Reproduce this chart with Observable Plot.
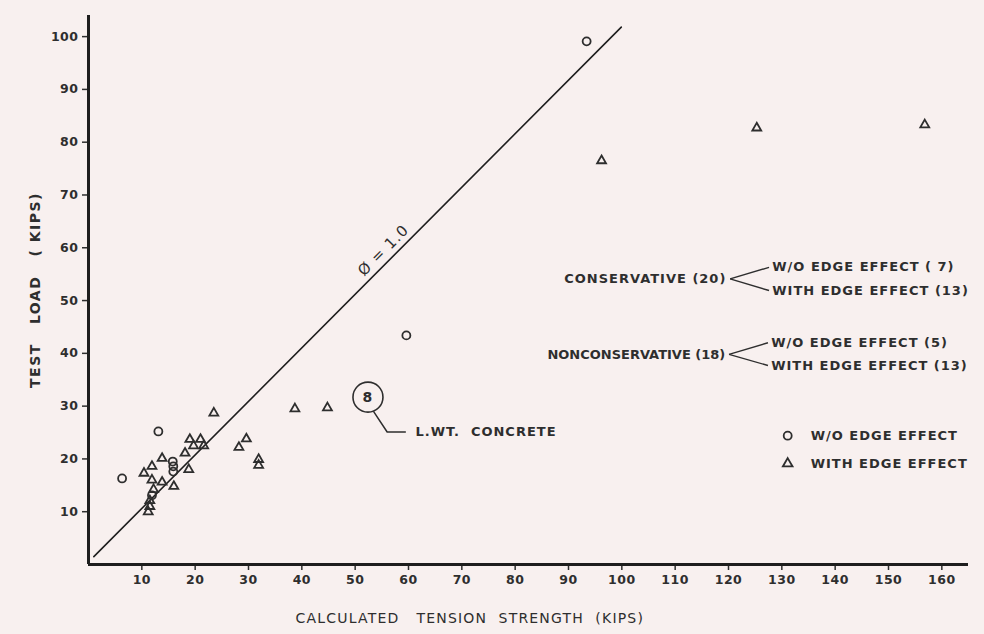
<!DOCTYPE html>
<html><head><meta charset="utf-8">
<script src="https://cdn.jsdelivr.net/npm/d3@7"></script>
<script src="https://cdn.jsdelivr.net/npm/@observablehq/plot@0.6"></script>
<style>
html,body{margin:0;padding:0;background:#f8f0ef;}
#chart svg{display:block}
</style></head><body><div id="chart"></div>
<script>
// W/O edge effect (circles): calculated tension strength (kips), test load (kips)
const circleX = [93.4, 59.6, 13.1, 6.3, 15.8, 15.9, 15.9, 11.9];
const circleY = [99.1, 43.4, 25.2, 16.3, 19.5, 18.6, 17.6, 13.1];
// With edge effect (triangles)
const triX = [96.2, 125.3, 156.8, 23.5, 38.7, 44.8, 29.6, 28.2, 31.9, 31.9, 19.0, 21.0, 19.7, 21.6, 18.1, 13.8, 18.8, 11.9, 10.4, 11.9, 13.8, 16.0, 12.2, 11.5, 11.5, 11.2];
const triY = [76.5, 82.7, 83.3, 28.7, 29.5, 29.7, 23.8, 22.2, 19.9, 18.8, 23.7, 23.7, 22.5, 22.5, 21.1, 20.1, 18.0, 18.6, 17.3, 16.0, 15.6, 14.8, 14.2, 12.1, 11.0, 10.0];
// phi = 1.0 reference line as drawn
const lineX = [1.0, 99.9];
const lineY = [1.5, 101.8];
const xTicks = [10,20,30,40,50,60,70,80,90,100,110,120,130,140,150,160];
const yTicks = [10,20,30,40,50,60,70,80,90,100];
const xLabel = "CALCULATED   TENSION  STRENGTH  (KIPS)";
const yLabel = "TEST   LOAD   ( KIPS)";
const groupLabels = ["CONSERVATIVE (20)", "NONCONSERVATIVE (18)"];
const branchLabels = [["W/O EDGE EFFECT ( 7)", "WITH EDGE EFFECT (13)"], ["W/O EDGE EFFECT (5)", "WITH EDGE EFFECT (13)"]];
const legendLabels = ["W/O EDGE EFFECT", "WITH EDGE EFFECT"];

const circles = circleX.map((x, i) => ({x, y: circleY[i]}));
const tris = triX.map((x, i) => ({x, y: triY[i]}));
const refLine = lineX.map((x, i) => ({x, y: lineY[i]}));

const ink = "#2e2e2e";
const groups = [
  {label: groupLabels[0], x: 119.6, y: 54.1, up: 56.3, dn: 51.9, b: branchLabels[0]},
  {label: groupLabels[1], x: 119.4, y: 39.8, up: 42.0, dn: 37.7, b: branchLabels[1]}
];
const links = groups.flatMap(g => [
  {x1: g.x + 0.7, y1: g.y, x2: g.x + 8.0, y2: g.up},
  {x1: g.x + 0.7, y1: g.y, x2: g.x + 8.0, y2: g.dn}
]);
const branchText = groups.flatMap(g => [
  {x: g.x + 8.6, y: g.up, t: g.b[0]},
  {x: g.x + 8.6, y: g.dn, t: g.b[1]}
]);
const annFont = {fontSize: 13, fontWeight: "bold", fill: ink};

const chart = Plot.plot({
  width: 984, height: 634,
  marginLeft: 88, marginRight: 16, marginTop: 15, marginBottom: 70,
  x: {domain: [0, 165]},
  y: {domain: [0, 104]},
  style: {background: "#f8f0ef", fontFamily: "'DejaVu Sans', sans-serif", color: ink, letterSpacing: "1px", whiteSpace: "pre"},
  marks: [
    Plot.axisX({ticks: xTicks, tickSize: 6, tickPadding: 5, label: null, fontSize: 12.5, fontWeight: "bold", strokeWidth: 1.5}),
    Plot.axisY({ticks: yTicks, tickSize: 6, tickPadding: 4, label: null, fontSize: 12.5, fontWeight: "bold", strokeWidth: 1.5}),
    Plot.ruleY([0], {stroke: "#1e1e1e", strokeWidth: 3}),
    Plot.ruleX([0], {stroke: "#1e1e1e", strokeWidth: 3}),
    Plot.line(refLine, {x: "x", y: "y", stroke: "#1e1e1e", strokeWidth: 1.6}),
    Plot.text(["\u00D8 = 1.0"], {x: 55.3, y: 59.5, rotate: -45, fontSize: 15, fill: ink}),
    Plot.dot(circles, {x: "x", y: "y", r: 4, stroke: ink, strokeWidth: 1.8, fill: "none"}),
    Plot.dot(tris, {x: "x", y: "y", symbol: "triangle", r: 3.3, stroke: ink, strokeWidth: 1.8, fill: "none"}),
    // "8" marker and leader
    Plot.dot([{x: 52.4, y: 31.7}], {x: "x", y: "y", r: 15, stroke: ink, strokeWidth: 1.6, fill: "none"}),
    Plot.text(["8"], {x: 52.4, y: 31.7, fontSize: 14, fontWeight: "bold", fill: ink}),
    Plot.line([{x: 53.5, y: 28.9}, {x: 56.0, y: 25.1}, {x: 59.4, y: 25.1}], {x: "x", y: "y", stroke: ink, strokeWidth: 1.5}),
    Plot.text(["L.WT.  CONCRETE"], {x: 61.3, y: 25.1, textAnchor: "start", ...annFont}),
    // group annotations
    Plot.text(groups, {x: "x", y: "y", text: "label", textAnchor: "end", ...annFont}),
    Plot.link(links, {x1: "x1", y1: "y1", x2: "x2", y2: "y2", stroke: ink, strokeWidth: 1.4}),
    Plot.text(branchText, {x: "x", y: "y", text: "t", textAnchor: "start", ...annFont}),
    // legend
    Plot.dot([{x: 131.1, y: 24.4}], {x: "x", y: "y", r: 4, stroke: ink, strokeWidth: 1.8, fill: "none"}),
    Plot.dot([{x: 131.1, y: 19.1}], {x: "x", y: "y", symbol: "triangle", r: 3.6, stroke: ink, strokeWidth: 1.8, fill: "none"}),
    Plot.text([{x: 135.4, y: 24.4, t: legendLabels[0]}, {x: 135.4, y: 19.1, t: legendLabels[1]}], {x: "x", y: "y", text: "t", textAnchor: "start", ...annFont}),
    // axis titles
    Plot.text([xLabel], {x: 71.5, frameAnchor: "bottom", dy: 58, fontSize: 14, fill: ink}),
    Plot.text([yLabel], {y: 52.0, frameAnchor: "left", textAnchor: "middle", dx: -53, rotate: -90, fontSize: 14, fontWeight: "bold", fill: ink})
  ]
});
const svg = d3.select(chart);
svg.selectAll("text").filter(function() { return this.textContent.startsWith("NONCONS"); }).style("letter-spacing", "0px");
svg.selectAll("text").filter(function() { return this.textContent.startsWith("CALCULATED"); }).style("letter-spacing", "1.2px");
svg.selectAll("text").filter(function() { return this.textContent.startsWith("TEST"); }).style("letter-spacing", "1.5px");
svg.selectAll('g[aria-label="x-axis tick label"] text, g[aria-label="y-axis tick label"] text').style("letter-spacing", "0.5px");
document.getElementById("chart").appendChild(chart);
</script>
</body></html>
